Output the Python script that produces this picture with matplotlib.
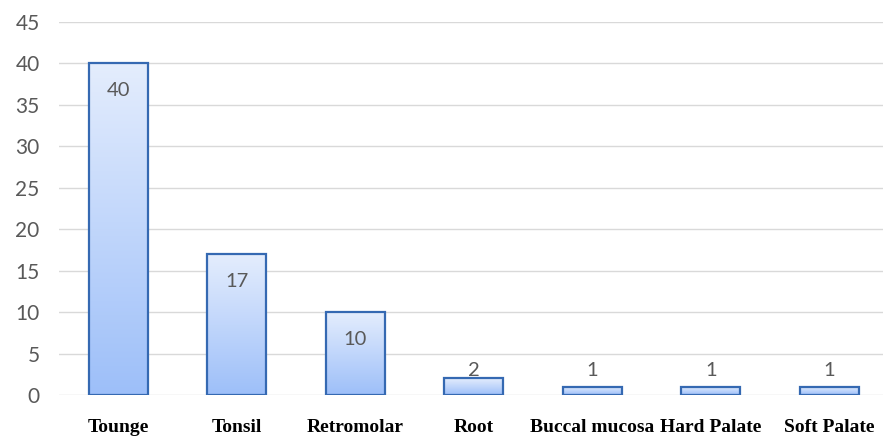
import numpy as np
import matplotlib.pyplot as plt
from matplotlib.colors import LinearSegmentedColormap

sites = ['Tounge', 'Tonsil', 'Retromolar', 'Root', 'Buccal mucosa', 'Hard Palate', 'Soft Palate']
cases = [40, 17, 10, 2, 1, 1, 1]
y_ticks = list(range(0, 50, 5))

grad = LinearSegmentedColormap.from_list('bar_grad', ['#9dbff9', '#e4edfd'])

fig = plt.figure(figsize=(8.83, 4.38), dpi=100)
ax = fig.add_axes([59 / 883, 1 - 395 / 438, 829.5 / 883, (395 - 22) / 438])

x = np.arange(len(sites))
bars = ax.bar(x, cases, width=0.5, facecolor='none', edgecolor='#3569b2',
              linewidth=1.6, zorder=3)

# vertical gradient inside each bar, clipped to the bar outline
col = np.linspace(0, 1, 256).reshape(-1, 1)
for b in bars:
    x0, y0 = b.get_x(), b.get_y()
    im = ax.imshow(col, cmap=grad, origin='lower', aspect='auto',
                   extent=[x0, x0 + b.get_width(), y0, y0 + b.get_height()],
                   zorder=2, interpolation='bicubic')
    im.set_clip_path(b)

for xi, v in zip(x, cases):
    ax.text(xi, max(v - 3.3, 3.0), str(v), ha='center', va='center',
            fontsize=14.5, color='#595959', family='Lato', zorder=4)

ax.set_xlim(-0.5, len(sites) - 0.5)
ax.set_ylim(0, 45)
ax.set_yticks(y_ticks)
ax.set_xticks(x)
ax.set_xticklabels(sites, family='Liberation Serif', fontweight='bold',
                   fontsize=14, color='black')
ax.tick_params(axis='x', length=0, pad=17)
ax.tick_params(axis='y', length=0, pad=14, labelsize=15, labelcolor='#595959')
for lb in ax.get_yticklabels():
    lb.set_family('Lato')

ax.grid(axis='y', color='#d9d9d9', linewidth=1.0, zorder=0)
ax.set_axisbelow(True)
for s in ax.spines.values():
    s.set_visible(False)

fig.savefig('out.png', dpi=100)
